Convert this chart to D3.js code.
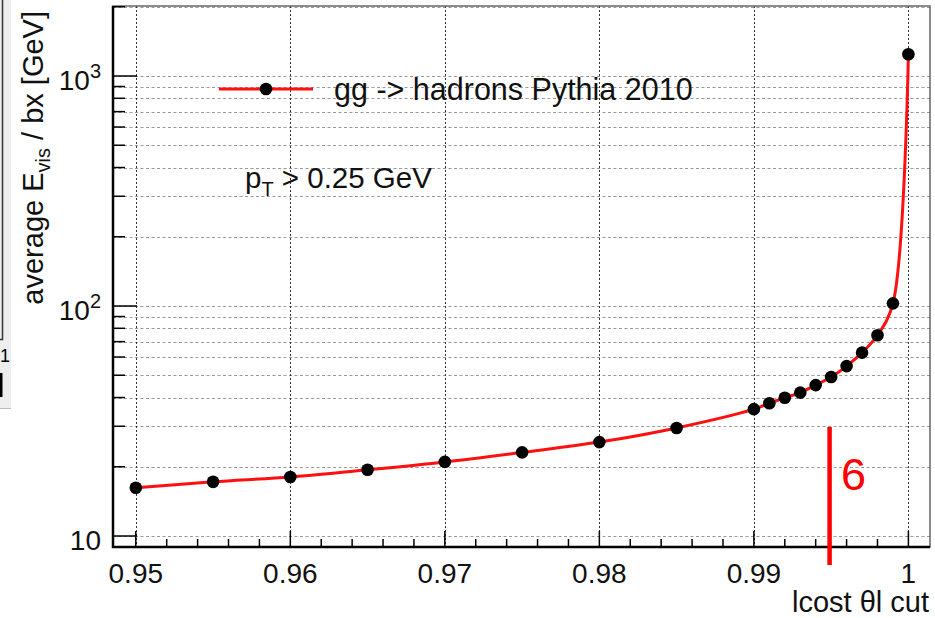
<!DOCTYPE html>
<html>
<head>
<meta charset="utf-8">
<script src="https://cdn.jsdelivr.net/npm/d3@7"></script>
<style>
  body { margin: 0; background: #fff; }
  svg { display: block; font-family: "Liberation Sans", Arial, Helvetica, sans-serif; }
</style>
</head>
<body>
<div id="chart"></div>
<script>
// values
const cutValues = [0.95, 0.955, 0.96, 0.965, 0.97, 0.975, 0.98, 0.985,
  0.99, 0.991, 0.992, 0.993, 0.994, 0.995, 0.996, 0.997, 0.998, 0.999, 1.0];
const eVis = [16.2, 17.2, 18.05, 19.4, 21.0, 23.1, 25.6, 29.5,
  35.6, 37.8, 39.9, 42.0, 45.3, 49.1, 54.8, 62.7, 74.6, 102.7, 1243];
const xTicks = [0.95, 0.96, 0.97, 0.98, 0.99, 1.0];
const xTickLabels = ['0.95', '0.96', '0.97', '0.98', '0.99', '1'];
const yDecades = [10, 100, 1000];
const yDecadeLabels = [['10', ''], ['10', '2'], ['10', '3']];
const legendLabel = 'gg -> hadrons Pythia 2010';
const cutMark = 0.9949;
const cutLabel = '6';

const W = 935, H = 618;
const frame = { left: 113, right: 930, top: 6, bottom: 547 };

const svg = d3.select('#chart').append('svg')
  .attr('width', W).attr('height', H);

const x = d3.scaleLinear().domain([0.95, 1.0]).range([135.8, 908.4]);
const y = d3.scaleLog().domain([10, 1000]).range([536, 76]);

// leftover strip of the neighbouring plot
svg.append('rect').attr('x', 0).attr('y', 0).attr('width', 11).attr('height', 408).attr('fill', '#eeeeee');
svg.append('path').attr('d', 'M2.5,0 V339.5 H0').attr('fill', 'none').attr('stroke', '#333').attr('stroke-width', 1.5);
svg.append('text').attr('x', 0).attr('y', 362).attr('font-size', 18).attr('fill', '#000').text('1');
svg.append('rect').attr('x', 0).attr('y', 373).attr('width', 2.5).attr('height', 24).attr('fill', '#000');
svg.append('line').attr('x1', 0).attr('x2', 11).attr('y1', 408.5).attr('y2', 408.5).attr('stroke', '#bbb');

// grid
const minorY = [];
[10, 100, 1000].forEach(d => { for (let k = 1; k <= 9; k++) { const v = d * k; if (v <= 2000) minorY.push(v); } });

svg.append('g').selectAll('line').data(minorY).enter().append('line')
  .attr('x1', frame.left).attr('x2', frame.right)
  .attr('y1', d => Math.round(y(d)) + 0.5).attr('y2', d => Math.round(y(d)) + 0.5)
  .attr('stroke', '#9a9a9a').attr('stroke-width', 1.2).attr('stroke-dasharray', '3,2.5');

svg.append('g').selectAll('line').data(xTicks).enter().append('line')
  .attr('x1', d => Math.round(x(d)) + 0.5).attr('x2', d => Math.round(x(d)) + 0.5)
  .attr('y1', frame.top).attr('y2', frame.bottom)
  .attr('stroke', '#333').attr('stroke-width', 1).attr('stroke-dasharray', '2,2');

// frame
svg.append('rect').attr('x', frame.left).attr('y', frame.top)
  .attr('width', frame.right - frame.left).attr('height', frame.bottom - frame.top)
  .attr('fill', 'none').attr('stroke', '#666').attr('stroke-width', 1.5);
svg.append('path').attr('d', `M${frame.left},${frame.top} V${frame.bottom} H${frame.right}`)
  .attr('fill', 'none').attr('stroke', '#000').attr('stroke-width', 2.5);

// x ticks
const xMinor = d3.range(0, 26).map(i => +(0.95 + i * 0.002).toFixed(3));
svg.append('g').selectAll('line').data(xMinor).enter().append('line')
  .attr('x1', d => x(d)).attr('x2', d => x(d))
  .attr('y1', frame.bottom).attr('y2', d => xTicks.some(t => Math.abs(t - d) < 1e-9) ? frame.bottom - 16 : frame.bottom - 8)
  .attr('stroke', '#000').attr('stroke-width', 1.5);

svg.append('g').selectAll('text').data(xTicks).enter().append('text')
  .attr('x', d => x(d)).attr('y', 583)
  .attr('text-anchor', 'middle').attr('font-size', 28).attr('fill', '#111')
  .text((d, i) => xTickLabels[i]);

// y ticks
svg.append('g').selectAll('line').data(minorY).enter().append('line')
  .attr('x1', frame.left).attr('x2', d => yDecades.includes(d) ? frame.left + 24 : frame.left + 12)
  .attr('y1', d => y(d)).attr('y2', d => y(d))
  .attr('stroke', '#000').attr('stroke-width', 1.5);

const yLab = svg.append('g').selectAll('text').data(yDecades).enter().append('text')
  .attr('x', 101).attr('y', d => y(d) + 14)
  .attr('text-anchor', 'end').attr('font-size', 28).attr('fill', '#111');
yLab.append('tspan').text((d, i) => yDecadeLabels[i][0]);
yLab.append('tspan').attr('dy', -12).attr('font-size', 20).text((d, i) => yDecadeLabels[i][1]);

// axis titles
const yTitle = svg.append('text')
  .attr('transform', 'translate(43,11) rotate(-90)')
  .attr('text-anchor', 'end').attr('font-size', 29).attr('fill', '#111');
yTitle.append('tspan').text('average E');
yTitle.append('tspan').attr('dy', 7).attr('font-size', 20).text('vis');
yTitle.append('tspan').attr('dy', -7).text('  / bx [GeV]');

svg.append('text').attr('x', 929).attr('y', 612)
  .attr('text-anchor', 'end').attr('font-size', 29).attr('fill', '#111')
  .text('lcost θl cut');

// curve and points
const pts = cutValues.map((c, i) => [x(c), y(eVis[i])]);
svg.append('path').datum(pts)
  .attr('d', d3.line().curve(d3.curveCatmullRom.alpha(0.5)))
  .attr('fill', 'none').attr('stroke', '#ff1010').attr('stroke-width', 3);

svg.append('g').selectAll('circle').data(pts).enter().append('circle')
  .attr('cx', d => d[0]).attr('cy', d => d[1]).attr('r', 6.3).attr('fill', '#000');

// legend
svg.append('line').attr('x1', 219).attr('x2', 313).attr('y1', 89).attr('y2', 89)
  .attr('stroke', '#ff1010').attr('stroke-width', 3);
svg.append('circle').attr('cx', 266).attr('cy', 89).attr('r', 6.3).attr('fill', '#000');
svg.append('text').attr('x', 334).attr('y', 100).attr('font-size', 30.5).attr('fill', '#111').text(legendLabel);

const pt = svg.append('text').attr('x', 245).attr('y', 188).attr('font-size', 29.5).attr('fill', '#111');
pt.append('tspan').text('p');
pt.append('tspan').attr('dy', 8).attr('font-size', 20).text('T');
pt.append('tspan').attr('dy', -8).text(' > 0.25 GeV');

// red annotation
svg.append('line').attr('x1', x(cutMark)).attr('x2', x(cutMark)).attr('y1', 427).attr('y2', 565)
  .attr('stroke', '#ff0000').attr('stroke-width', 4.5);
svg.append('text').attr('x', 841).attr('y', 490).attr('font-size', 45).attr('fill', '#ff0000').text(cutLabel);
</script>
</body>
</html>
